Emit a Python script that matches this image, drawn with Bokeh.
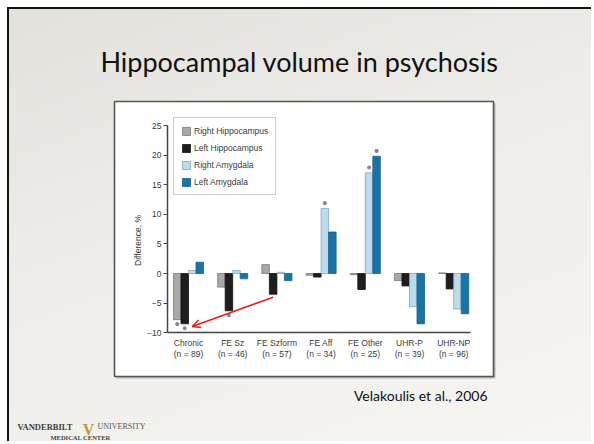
import numpy as np
from bokeh.plotting import figure
from bokeh.models import (Range1d, LinearAxis, FixedTicker, Legend, LegendItem,
                          Label, Arrow, OpenHead)
from bokeh.embed import file_html
from bokeh.resources import INLINE

# ---------------- data ----------------
categories = ["Chronic", "FE Sz", "FE Szform", "FE Aff", "FE Other", "UHR-P", "UHR-NP"]
sample_sizes = [89, 46, 57, 34, 25, 39, 96]
right_hippocampus = [-7.8, -2.3, 1.5, -0.3, -0.2, -1.2, 0.1]
left_hippocampus = [-8.5, -6.3, -3.5, -0.6, -2.7, -2.1, -2.6]
right_amygdala = [0.5, 0.5, 0.2, 11.0, 17.0, -5.6, -6.0]
left_amygdala = [1.9, -0.9, -1.2, 7.0, 19.8, -8.5, -6.8]
sig_right_hippocampus = [1, 0, 0, 0, 0, 0, 0]
sig_left_hippocampus = [1, 1, 0, 0, 0, 0, 0]
sig_right_amygdala = [0, 0, 0, 1, 1, 0, 0]
sig_left_amygdala = [0, 0, 0, 0, 1, 0, 0]
series_names = ["Right Hippocampus", "Left Hippocampus", "Right Amygdala", "Left Amygdala"]
y_ticks = [-10, -5, 0, 5, 10, 15, 20, 25]

series = [right_hippocampus, left_hippocampus, right_amygdala, left_amygdala]
sigs = [sig_right_hippocampus, sig_left_hippocampus, sig_right_amygdala, sig_left_amygdala]
fills = ["#a9a9a9", "#1e1e1e", "#bcdcee", "#1a73a6"]
lines = ["#7a7a7a", "#111111", "#7fa6bf", "#15618d"]

CHART_FONT = "Liberation Sans Narrow, Liberation Sans, Arial"
TXT = "#3a3a3a"

# ---------------- layout (page pixels) ----------------
CANVAS_L, CANVAS_T, W, H = 9, 9, 584, 434
X0, DX = 188.0, 44.2     # page x of first category, px per category
Y0, DY = 273.0, 5.92     # page y of value 0, px per percent


def dx(px):
    return (px - X0) / DX


def dy(py):
    return (Y0 - py) / DY


p = figure(width=W, height=H, output_backend="svg", toolbar_location=None,
           x_range=Range1d(dx(CANVAS_L), dx(CANVAS_L + W)),
           y_range=Range1d(dy(CANVAS_T + H), dy(CANVAS_T)),
           x_axis_type=None, y_axis_type=None,
           min_border_left=0, min_border_right=0, min_border_top=0, min_border_bottom=0)
p.styles = {"margin-left": "7px", "margin-top": "7px",
            "border-left": "2px solid #111", "border-top": "2px solid #111",
            "background": "linear-gradient(160deg, #e3e1dc 0%, #eeede9 45%, #f6f5f2 100%)"}
p.grid.visible = False
p.background_fill_alpha = 0
p.border_fill_alpha = 0
p.outline_line_color = None

# chart panel (white box with shadow)
BOX_L, BOX_R, BOX_T, BOX_B = 114, 493, 101, 376
p.quad(left=dx(BOX_L + 2), right=dx(BOX_R + 2), top=dy(BOX_T + 2), bottom=dy(BOX_B + 2),
       fill_color="#b9b8b4", line_color=None)
p.quad(left=dx(BOX_L), right=dx(BOX_R), top=dy(BOX_T), bottom=dy(BOX_B),
       fill_color="white", line_color="#555555", line_width=1.6)

# ---------------- bars ----------------
bar_w = 0.17
offsets = [-1.5 * bar_w, -0.5 * bar_w, 0.5 * bar_w, 1.5 * bar_w]
xs = np.arange(len(categories), dtype=float)
renderers = []
for vals, off, fc, lc in zip(series, offsets, fills, lines):
    r = p.vbar(x=xs + off, top=vals, bottom=0, width=bar_w,
               fill_color=fc, line_color=lc, line_width=0.8)
    renderers.append(r)

# significance asterisks
for vals, sg, off in zip(series, sigs, offsets):
    v = np.array(vals)
    m = np.array(sg, dtype=bool)
    ys = np.where(v >= 0, v + 0.9, v - 0.75)
    p.scatter(x=(xs + off)[m], y=ys[m], marker="asterisk", size=4,
              line_color="#8c7f9a", line_width=1.2)

# ---------------- axes ----------------
yaxis = LinearAxis(ticker=FixedTicker(ticks=y_ticks), fixed_location=dx(167), bounds=(-10, 25))
yaxis.major_label_overrides = {t: (f"\u2212{abs(t)}" if t < 0 else str(t)) for t in y_ticks}
yaxis.axis_line_color = "#444"
yaxis.axis_line_width = 1.5
yaxis.major_tick_line_color = "#444"
yaxis.major_tick_line_width = 1.2
yaxis.major_tick_in = 0
yaxis.major_tick_out = 4
yaxis.minor_tick_in = 0
yaxis.minor_tick_out = 0
yaxis.major_label_standoff = 2
yaxis.major_label_text_font = CHART_FONT
yaxis.major_label_text_font_size = "8.5px"
yaxis.major_label_text_color = TXT
p.add_layout(yaxis, "left")

xaxis = LinearAxis(ticker=FixedTicker(ticks=list(range(len(categories)))), fixed_location=-10,
                   bounds=(dx(167), dx(470)))
xaxis.major_label_overrides = {i: f"{c}\n(n = {n})" for i, (c, n) in enumerate(zip(categories, sample_sizes))}
xaxis.axis_line_color = "#444"
xaxis.axis_line_width = 1.5
xaxis.major_tick_in = 0
xaxis.major_tick_out = 0
xaxis.minor_tick_in = 0
xaxis.minor_tick_out = 0
xaxis.major_label_standoff = 5
xaxis.major_label_text_font = CHART_FONT
xaxis.major_label_text_font_size = "8.5px"
xaxis.major_label_text_color = TXT
xaxis.major_label_text_line_height = 1.15
p.add_layout(xaxis, "below")

# y axis title as a rotated label
p.add_layout(Label(x=dx(137), y=dy(240), text="Difference, %", angle=np.pi / 2,
                   text_font=CHART_FONT, text_font_size="8.5px", text_color=TXT,
                   text_align="center", text_baseline="middle"))

# ---------------- legend ----------------
legend = Legend(items=[LegendItem(label=n, renderers=[r]) for n, r in zip(series_names, renderers)],
                location=(173 - CANVAS_L, CANVAS_T + H - 195), orientation="vertical",
                glyph_width=10, glyph_height=10, label_height=11, label_standoff=3,
                spacing=6, padding=7, margin=0,
                label_text_font=CHART_FONT, label_text_font_size="8.5px", label_text_color=TXT,
                border_line_color="#9a9a9a", border_line_width=1, background_fill_color="white")
p.add_layout(legend, "center")

# ---------------- red arrow ----------------
arrow = Arrow(x_start=2 + offsets[1], y_start=left_hippocampus[2] - 0.5,
              x_end=0 + offsets[1] + bar_w, y_end=left_hippocampus[0] - 0.45,
              line_color="#e5201c", line_width=1.5,
              end=OpenHead(size=8, line_color="#e5201c", line_width=1.5))
p.add_layout(arrow)


# ---------------- slide texts ----------------
def slide_label(text, px, py, size, font, color, align="left", style="normal"):
    p.add_layout(Label(x=dx(px), y=dy(py), text=text, text_font=font, text_font_size=size,
                       text_color=color, text_align=align, text_baseline="alphabetic",
                       text_font_style=style))


slide_label("Hippocampal volume in psychosis", 299, 61, "27px", "Lato", "#111", align="center")
slide_label("Velakoulis et al., 2006", 487, 395, "14px", "Lato", "#111", align="right")
slide_label("VANDERBILT", 17, 426, "8.5px", "Liberation Serif", "#3c3c3c", style="bold")
slide_label("V", 88, 429, "16px", "Liberation Serif", "#b59a3c", align="center", style="bold")
slide_label("UNIVERSITY", 97, 426, "8px", "Liberation Serif", "#555555")
slide_label("MEDICAL CENTER", 80, 437, "6.5px", "Liberation Serif", "#444444", align="center", style="bold")

open("out.html", "w").write(file_html(p, INLINE))
